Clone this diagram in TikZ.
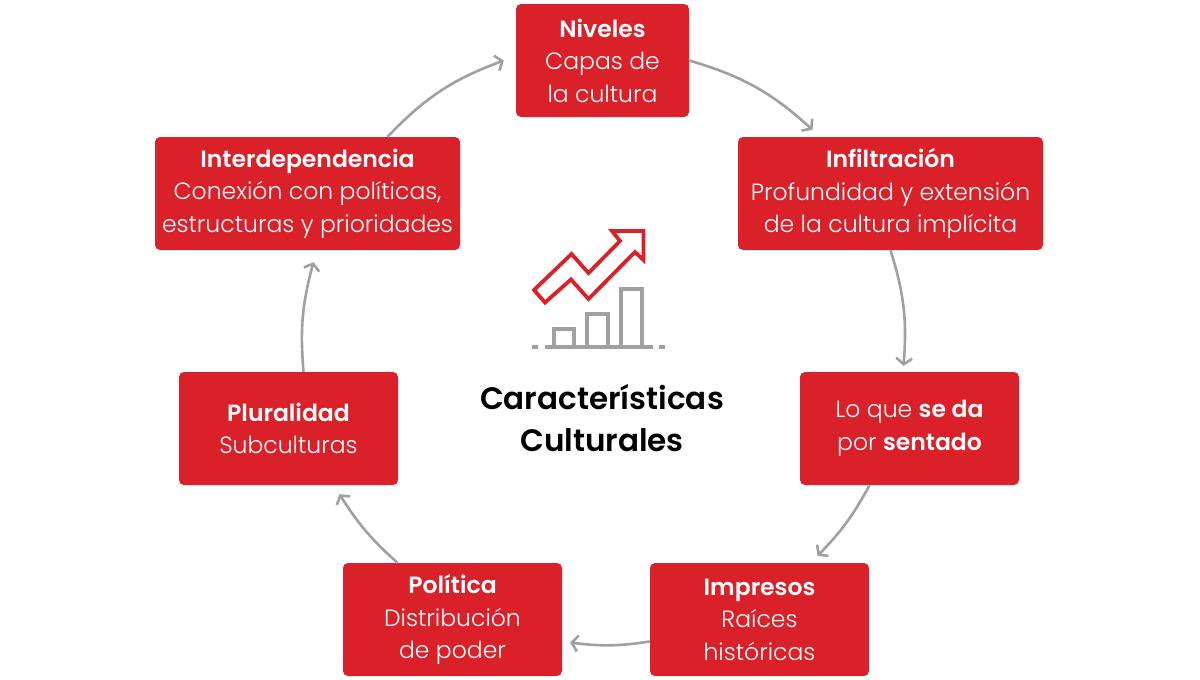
\documentclass[tikz,border=0pt]{standalone}
\usepackage{fontspec}
\setmainfont{Poppins}[UprightFont=* Light,BoldFont=* SemiBold]
\usetikzlibrary{arrows.meta}
\definecolor{rojo}{RGB}{218,33,41}
\definecolor{gris}{RGB}{160,160,163}

\begin{document}
\begin{tikzpicture}[x=1pt,y=-1pt,
  caja/.style={fill=rojo, text=white, rounded corners=5pt, inner sep=0pt,
    align=center, minimum height=113pt, font=\fontsize{23.5}{32.5}\selectfont},
  flecha/.style={draw=gris, line width=2.6pt,
    -{Straight Barb[length=6pt,width=16pt,line width=2.6pt]}},
  icono/.style={line width=3.8pt}]

 \useasboundingbox[fill=white] (0,0) rectangle (1200,680);

 % les cases
 \node[caja, minimum width=173pt] (niv) at (602.5,60.5) {\textbf{Niveles}\\Capas de\\la cultura};
 \node[caja, minimum width=305pt] (inf) at (890.5,193.5) {\textbf{Infiltración}\\Profundidad y extensión\\de la cultura implícita};
 \node[caja, minimum width=219pt] (lqs) at (909.5,428.5) {Lo que \textbf{se da}\\por \textbf{sentado}};
 \node[caja, minimum width=219pt] (imp) at (759.5,619.5) {\textbf{Impresos}\\Raíces\\históricas};
 \node[caja, minimum width=219pt] (pol) at (452.5,619.5) {\textbf{Política}\\Distribución\\de poder};
 \node[caja, minimum width=219pt] (plu) at (288.5,428.5) {\textbf{Pluralidad}\\Subculturas};
 \node[caja, minimum width=305pt] (int) at (307.5,193.5) {\textbf{Interdependencia}\\Conexión con políticas,\\estructuras y prioridades};

 \node[align=center, font=\fontsize{31}{42}\selectfont\bfseries] (titulo) at (602,418) {Características\\Culturales};

 % le cercle des flèches
 \draw[flecha] (niv.east) to[bend left=13] ([xshift=-78pt,yshift=7pt]inf.north);
 \draw[flecha] (inf.south) to[bend left=11] ([xshift=-6pt,yshift=6pt]lqs.north);
 \draw[flecha] ([xshift=-40pt]lqs.south) to[bend left=8] ([xshift=58pt,yshift=7pt]imp.north);
 \draw[flecha] ([yshift=-22pt]imp.west) to[bend left=8] ([xshift=8pt,yshift=-23pt]pol.east);
 \draw[flecha] ([xshift=-55pt]pol.north) to[bend left=8] ([xshift=51pt,yshift=-9pt]plu.south);
 \draw[flecha] ([xshift=15pt]plu.north) to[bend left=10] ([xshift=6pt,yshift=-12pt]int.south);
 \draw[flecha] ([xshift=80pt]int.north) to[bend left=13] ([xshift=-12pt]niv.west);

 % l'icône
 \draw[gris, icono] (545,347)--(653,347);
 \draw[gris, icono] (532,347)--(538,347) (659,347)--(665,347);
 \foreach \xa/\xb/\t in {554/574/329, 587/608/314, 621/642/289}{
    \draw[gris, icono] (\xa,347) rectangle (\xb,\t);
 }
 \draw[rojo, icono, line join=miter] (534,290)--(571.5,254)--(588.5,273)--(620,241)--(612,231)
   --(643.5,231)--(643.5,260)--(635,252)--(588.5,299)--(571,279.5)--(545,302.5)--cycle;
\end{tikzpicture}
\end{document}
